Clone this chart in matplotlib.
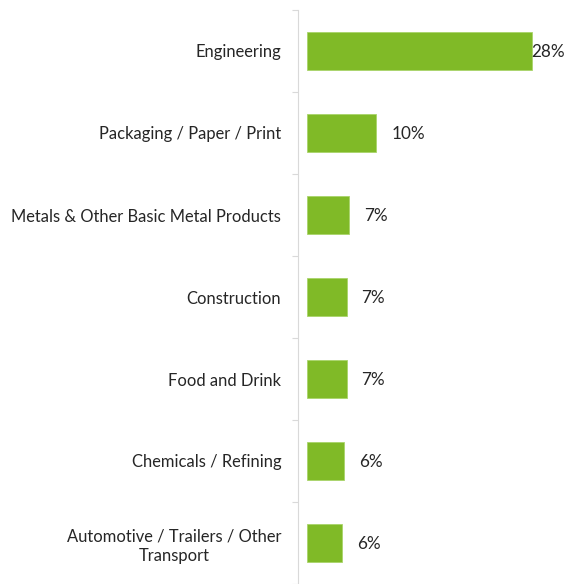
import matplotlib
matplotlib.use("Agg")
import matplotlib.pyplot as plt
from matplotlib.ticker import FixedLocator

categories = [
    "Engineering",
    "Packaging / Paper / Print",
    "Metals & Other Basic Metal Products",
    "Construction",
    "Food and Drink",
    "Chemicals / Refining",
    "Automotive / Trailers / Other\nTransport",
]
values = [27.98, 10.0, 6.86, 6.58, 6.58, 6.31, 6.08]
value_labels = ["28%", "10%", "7%", "7%", "7%", "6%", "6%"]
baseline = 2.0

plt.rcParams['font.family'] = ['Lato', 'DejaVu Sans']

fig = plt.figure(figsize=(5.65, 5.84), dpi=100)
ax = fig.add_axes([298 / 565, 0.0, 1 - 298 / 565, 574 / 584])

ypos = list(range(len(categories)))
bar_color = "#80BA27"
ax.barh(ypos, [v - baseline for v in values], left=baseline, height=0.46,
        color=bar_color, edgecolor="#A9D46A", linewidth=0.6)

ax.set_xlim(0.96, 31.83)
ax.set_ylim(len(categories) - 0.5, -0.5)

text_color = "#262626"
for y, v, lab in zip(ypos, values, value_labels):
    off = 15 if v < 25 else 0
    ax.annotate(lab, xy=(v, y), xytext=(off * 0.72, -1.0), textcoords="offset points",
                ha="left", va="center", fontsize=12.3, color=text_color)

ax.set_yticks(ypos)
ax.set_yticklabels(categories, fontsize=11.9, color=text_color,
                   multialignment="center", linespacing=1.25)
ax.yaxis.set_minor_locator(FixedLocator([i + 0.5 for i in range(-1, len(categories))]))
ax.tick_params(axis="y", which="major", length=0, pad=12)
ax.tick_params(axis="y", which="minor", length=4.5, width=0.8, color="#D9D9D9")
ax.set_xticks([])

for s in ["top", "right", "bottom"]:
    ax.spines[s].set_visible(False)
ax.spines["left"].set_color("#D9D9D9")
ax.spines["left"].set_linewidth(0.8)

fig.savefig("out.png", dpi=100)
